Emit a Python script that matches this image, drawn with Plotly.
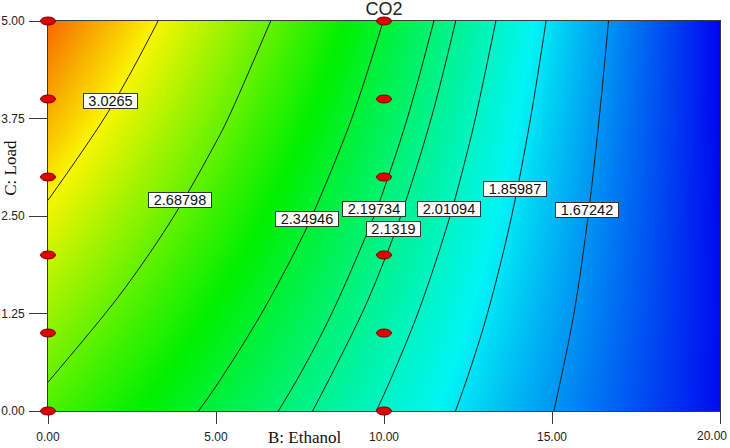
import plotly.graph_objects as go

# ---------------- data ----------------
x_grid = [0, 2.5, 5, 7.5, 10, 12.5, 15, 17.5, 20]          # B: Ethanol
y_grid = [0, 1.25, 2.5, 3.75, 5]                             # C: Load
z_co2 = [
    [2.636, 2.476, 2.316, 2.156, 1.996, 1.836, 1.676, 1.516, 1.356],
    [2.812, 2.630, 2.448, 2.266, 2.084, 1.902, 1.720, 1.538, 1.356],
    [2.997, 2.791, 2.585, 2.379, 2.173, 1.967, 1.761, 1.555, 1.349],
    [3.180, 2.950, 2.721, 2.491, 2.261, 2.031, 1.801, 1.572, 1.342],
    [3.357, 3.105, 2.852, 2.600, 2.347, 2.095, 1.842, 1.590, 1.337],
]
contour_levels = [3.0265, 2.68798, 2.34946, 2.19734, 2.1319, 2.01094, 1.85987, 1.67242]
label_text = ["3.0265", "2.68798", "2.34946", "2.19734", "2.1319", "2.01094", "1.85987", "1.67242"]
label_x = [1.85, 3.93, 7.71, 9.69, 10.27, 11.93, 13.90, 16.04]
label_y = [3.97, 2.705, 2.46, 2.59, 2.33, 2.59, 2.84, 2.58]

design_x = [0, 0, 0, 0, 0, 0, 10, 10, 10, 10, 10, 10]
design_y = [0, 1, 2, 3, 4, 5, 0, 1, 2, 3, 4, 5]

x_ticks = [0, 5, 10, 15, 20]
x_tick_text = ["0.00", "5.00", "10.00", "15.00", "20.00"]
y_ticks = [0, 1.25, 2.5, 3.75, 5]
y_tick_text = ["0.00", "1.25", "2.50", "3.75", "5.00"]

X_RANGE = [0, 20]
Y_RANGE = [0, 5]
Z_MIN, Z_MAX = 1.33, 3.6

colorscale = [
    [0.00, "rgb(0,0,240)"],
    [0.25, "rgb(0,245,245)"],
    [0.50, "rgb(0,240,0)"],
    [0.75, "rgb(250,245,0)"],
    [1.00, "rgb(245,0,0)"],
]

fig = go.Figure()

fig.add_trace(go.Heatmap(
    x=x_grid, y=y_grid, z=z_co2, zsmooth="best",
    colorscale=colorscale, zmin=Z_MIN, zmax=Z_MAX, showscale=False,
    hoverinfo="skip",
))

for lv in contour_levels:
    fig.add_trace(go.Contour(
        x=x_grid, y=y_grid, z=z_co2,
        autocontour=False,
        contours=dict(start=lv, end=lv, size=1, coloring="none", showlabels=False),
        line=dict(color="#1c1c1c", width=1),
        showscale=False, hoverinfo="skip", showlegend=False,
    ))

annotations = []
for t, lx, ly in zip(label_text, label_x, label_y):
    annotations.append(dict(
        x=lx, y=ly, xref="x", yref="y", text=t, showarrow=False,
        font=dict(family="Arial, Liberation Sans", size=14.5, color="#111"),
        bgcolor="white", bordercolor="#333", borderwidth=1, borderpad=0,
        width=53 if len(t) == 6 else 62, height=14,
    ))

# last x tick label would run past the right edge: draw it right-aligned instead
annotations.append(dict(
    x=x_ticks[-1], y=-0.064, xref="x", yref="paper", text=x_tick_text[-1],
    showarrow=False, xanchor="right", yanchor="middle", xshift=9,
    font=dict(family="Arial, Liberation Sans", size=12, color="#222"),
))

annotations.append(dict(
    x=(304 - 48) / 672, y=-0.069, xref="paper", yref="paper",
    text="B: Ethanol", showarrow=False, xanchor="center", yanchor="middle",
    font=dict(family="Liberation Serif, Times New Roman, serif", size=17, color="#111"),
))
annotations.append(dict(
    x=-0.057, y=0.623, xref="paper", yref="paper",
    text="C: Load", showarrow=False, textangle=-90, xanchor="center", yanchor="middle",
    font=dict(family="Liberation Serif, Times New Roman, serif", size=17, color="#111"),
))

shapes = []
for dx, dy in zip(design_x, design_y):
    shapes.append(dict(
        type="circle", xref="x domain", yref="y domain",
        xsizemode="pixel", ysizemode="pixel",
        xanchor=(dx - X_RANGE[0]) / (X_RANGE[1] - X_RANGE[0]),
        yanchor=(dy - Y_RANGE[0]) / (Y_RANGE[1] - Y_RANGE[0]),
        x0=-7.5, x1=7.5, y0=-4, y1=4,
        fillcolor="#e00000", line=dict(color="#7a0000", width=1), layer="above",
    ))

axis_common = dict(
    showgrid=False, zeroline=False, showline=True, linecolor="#3a3a3a", linewidth=1,
    mirror=True, ticks="outside", tickcolor="#3a3a3a", tickwidth=1, automargin=False,
    tickfont=dict(family="Arial, Liberation Sans", size=12, color="#222"),
)

fig.update_layout(
    width=730, height=448,
    margin=dict(l=48, r=10, t=21, b=37, autoexpand=False),
    paper_bgcolor="white", plot_bgcolor="white",
    title=dict(text="CO2", x=0.5, xref="paper", xanchor="center",
               y=1 - 8.5 / 448, yref="container", yanchor="middle",
               font=dict(family="Arial, Liberation Sans", size=18, color="#222"),
               automargin=False),
    xaxis=dict(range=X_RANGE, tickvals=x_ticks, ticktext=x_tick_text, ticklen=12,
               ticklabelstandoff=3, **axis_common),
    yaxis=dict(range=Y_RANGE, tickvals=y_ticks, ticktext=y_tick_text, ticklen=18,
               ticklabelstandoff=2, **axis_common),
    annotations=annotations,
    shapes=shapes,
    showlegend=False,
)

fig.write_html("out.html")
